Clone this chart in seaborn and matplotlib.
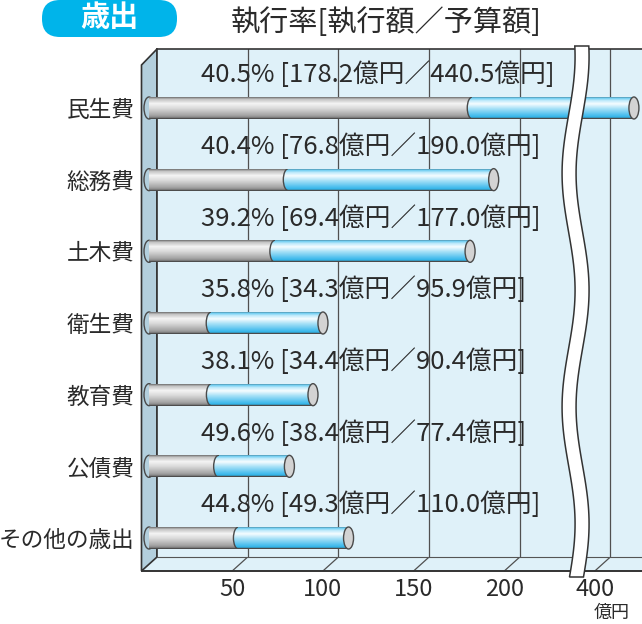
import numpy as np
import matplotlib
matplotlib.use('Agg')
import matplotlib.pyplot as plt
import seaborn as sns
from matplotlib.patches import Ellipse, Polygon, FancyBboxPatch, ConnectionPatch
from matplotlib.colors import LinearSegmentedColormap
from matplotlib.transforms import ScaledTranslation, blended_transform_factory

# data (億円)
categories = ['民生費', '総務費', '土木費', '衛生費', '教育費', '公債費', 'その他の歳出']
executed = [178.2, 76.8, 69.4, 34.3, 34.4, 38.4, 49.3]
budget = [440.5, 190.0, 177.0, 95.9, 90.4, 77.4, 110.0]
rate = [40.5, 40.4, 39.2, 35.8, 38.1, 49.6, 44.8]
ticks = [50, 100, 150, 200, 400]
tick_labels = ['50', '100', '150', '200', '400']

sns.set_style('white')
plt.rcParams['font.family'] = ['Noto Sans CJK JP', 'DejaVu Sans']
plt.rcParams['image.composite_image'] = False

INK = '#2a2a2a'
EDGE = '#4a4a4a'
W, H = 642, 624
fig = plt.figure(figsize=(W / 100, H / 100), dpi=100)
fig.suppressComposite = True


def fr(x0, y0, x1, y1):
    # pixel box, top-left origin -> figure fraction rect
    return [x0 / W, 1 - y1 / H, (x1 - x0) / W, (y1 - y0) / H]


def P(pts):
    return [(x / W, 1 - y / H) for x, y in pts]


ax = fig.add_axes(fr(157, 49, 720, 557))
floor = fig.add_axes(fr(141.5, 570, 704.5, 571), sharex=ax)

sns.barplot(x=budget, y=categories, orient='h', color='#7fd3f2', width=0.307,
            errorbar=None, ax=ax)
sns.barplot(x=executed, y=categories, orient='h', color='#c8c8c8', width=0.307,
            errorbar=None, ax=ax)
blue_bars = ax.patches[:7]
gray_bars = ax.patches[7:14]

# broken axis: squeeze the gap between ~233 and ~363
B0, B1, K = 233.0, 363.0, 0.43


def fwd(v):
    v = np.asarray(v, dtype=float)
    return np.where(v <= B0, v, np.where(v < B1, B0 + (v - B0) / (B1 - B0), B0 + 1 + (v - B1) * K))


def inv(u):
    u = np.asarray(u, dtype=float)
    return np.where(u <= B0, u, np.where(u < B0 + 1, B0 + (u - B0) * (B1 - B0), B1 + (u - B0 - 1) / K))


ax.set_xscale('function', functions=(fwd, inv))
ax.set_xlim(0, float(inv((720 - 157) / 1.814)))
ax.set_ylim(6 + 19 / 71.7, -59 / 71.7)
ax.set_autoscale_on(False)

ax.set_facecolor('#dff1f9')
ax.set_xticks(ticks)
ax.tick_params(axis='x', labelbottom=False, length=0)
ax.tick_params(axis='y', length=0, pad=16, labelsize=16.3, labelcolor=INK)
ax.grid(axis='x', color='#505050', lw=0.9)
ax.grid(axis='y', visible=False)
ax.set_axisbelow(True)
for s in ['top', 'left']:
    ax.spines[s].set_color('#333333')
    ax.spines[s].set_linewidth(1.2)
ax.spines['right'].set_visible(False)
ax.spines['bottom'].set_color('#555555')
ax.spines['bottom'].set_linewidth(0.8)

floor.set_facecolor('none')
for s in ['top', 'left', 'right']:
    floor.spines[s].set_visible(False)
floor.spines['bottom'].set_color('#333333')
floor.spines['bottom'].set_linewidth(1.4)
floor.set_yticks([])
floor.set_xticks(ticks)
floor.set_xticklabels(tick_labels)
floor.tick_params(axis='x', length=0, pad=5, labelsize=17, labelcolor=INK)

# cylinder shading
gray_cmap = LinearSegmentedColormap.from_list('g', [
    (0.0, '#4d4d4d'), (0.05, '#8f8f8f'), (0.12, '#c4c4c4'), (0.32, '#f4f4f4'),
    (0.55, '#d8d8d8'), (0.85, '#a6a6a6'), (0.95, '#8a8a8a'), (1.0, '#4d4d4d')])
blue_cmap = LinearSegmentedColormap.from_list('b', [
    (0.0, '#4a4a4a'), (0.05, '#62c8ef'), (0.18, '#c2ebfb'), (0.33, '#f4fcff'),
    (0.55, '#a8e1f7'), (0.85, '#4cbfee'), (0.95, '#30b2e6'), (1.0, '#4a4a4a')])

shift = ScaledTranslation(-0.08, 0, fig.dpi_scale_trans)
blend = blended_transform_factory(ax.transAxes, ax.transData)
grad = np.linspace(0, 1, 64).reshape(-1, 1)

for p in blue_bars + gray_bars:
    p.set_transform(ax.transData + shift)
    p.set_facecolor('none')
    p.set_edgecolor('none')


def grad_image(cmap, bar, clip, z):
    y0, h = bar.get_y(), bar.get_height()
    im = ax.imshow(grad, cmap=cmap, extent=(-0.06, 1, y0 + h, y0), transform=blend,
                   aspect='auto', interpolation='bilinear', zorder=z)
    im.set_clip_path(clip)
    return im


def cap(v, y, w_px, h_px, **kw):
    tr = fig.dpi_scale_trans + ScaledTranslation(v, y, ax.transData) + shift
    return Ellipse((0, 0), w_px / 100, h_px / 100, transform=tr, **kw)


for i in range(len(categories)):
    gb, bb = gray_bars[i], blue_bars[i]
    yc = gb.get_y() + gb.get_height() / 2
    hpx = abs(np.diff(ax.transData.transform([(1, 0), (1, gb.get_height())])[:, 1]))[0]

    e0 = cap(0, yc, 10, hpx, fc='none', ec=EDGE, lw=1, zorder=2.2)
    ax.add_patch(e0)
    e0.set_clip_on(False)
    im0 = grad_image(gray_cmap, gb, e0, 2.1)
    im0.set_clip_box(None)

    grad_image(blue_cmap, bb, bb, 3)
    grad_image(gray_cmap, gb, gb, 4)

    e1 = cap(executed[i], yc, 10, hpx, fc='none', ec=EDGE, lw=1, zorder=5.2)
    ax.add_patch(e1)
    e1.set_clip_path(gb)
    grad_image(blue_cmap, gb, e1, 5.1)

    e2 = cap(budget[i], yc, 10, hpx, fc='#d3d3d3', ec=EDGE, lw=1, zorder=6)
    ax.add_patch(e2)

    ax.text(24, i - 0.46, f'{rate[i]:.1f}% [{executed[i]:.1f}億円／{budget[i]:.1f}億円]',
            fontsize=18.5, color=INK, ha='left', va='center', zorder=7)

# side wall and floor of the box
fig.add_artist(Polygon(P([(141.5, 571), (141.5, 65), (157, 49), (157, 557)]), closed=True,
                       transform=fig.transFigure, fc='#b3cfdd', ec='#333333', lw=1.2, zorder=-1))
fig.add_artist(Polygon(P([(141.5, 571), (157, 557), (900, 557), (884.5, 571)]), closed=True,
                       transform=fig.transFigure, fc='#dff1f9', ec='none', zorder=-2))
for t in ticks:
    fig.add_artist(ConnectionPatch(xyA=(t, 0), coordsA=ax.get_xaxis_transform(),
                                   xyB=(t, 0), coordsB=floor.get_xaxis_transform(),
                                   color='#505050', lw=0.9, zorder=-0.5))

# axis break band
c0 = ax.transData.transform((float(inv(B0 + 0.5)), 0))[0] - 5
ys = np.linspace(46, 577, 120)
f = (ys - 46) / 531
cx = c0 + 6.5 * np.cos(2 * np.pi * (f - 0.02) / 0.44)
band = list(zip(cx - 7, ys)) + list(zip((cx + 7)[::-1], ys[::-1]))
fig.add_artist(Polygon(P(band), closed=True, transform=fig.transFigure,
                       fc='white', ec='#333333', lw=1.1, zorder=5))

# header
fig.add_artist(FancyBboxPatch((0.42, (H - 37) / 100), 1.35, 0.37,
                              boxstyle='round,pad=0,rounding_size=0.18',
                              transform=fig.dpi_scale_trans, fc='#00b4ea', ec='none'))
fig.text(109 / W, 1 - 17 / H, '歳出', color='white', fontsize=21, fontweight='bold',
         ha='center', va='center')
fig.text(386 / W, 1 - 23 / H, '執行率[執行額／予算額]', color=INK, fontsize=21,
         ha='center', va='center')
fig.text(612 / W, 1 - 613 / H, '億円', color=INK, fontsize=13, ha='center', va='center')

fig.savefig('out.png', dpi=100)
